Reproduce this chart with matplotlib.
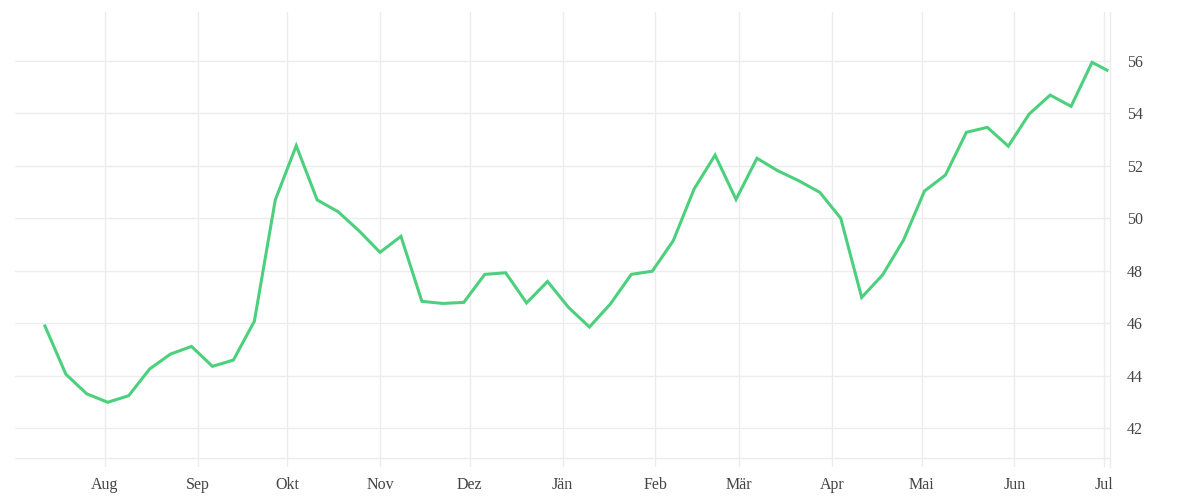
import matplotlib
matplotlib.use("Agg")
import matplotlib.pyplot as plt
import pandas as pd

# weekly values, Jul 2022 - Jul 2023 (last point is a partial week)
values = [45.89, 44.05, 43.30, 42.98, 43.23, 44.25, 44.82, 45.11, 44.35, 44.59,
          46.07, 50.70, 52.77, 50.70, 50.25, 49.52, 48.70, 49.31, 46.83, 46.75,
          46.79, 47.86, 47.92, 46.77, 47.59, 46.60, 45.85, 46.73, 47.86, 47.98,
          49.14, 51.12, 52.41, 50.72, 52.29, 51.81, 51.43, 50.99, 50.00, 46.98,
          47.84, 49.17, 51.04, 51.65, 53.28, 53.47, 52.75, 53.98, 54.70, 54.27,
          55.95, 55.65]
dates = list(pd.date_range("2022-07-12", periods=51, freq="7D")) + [pd.Timestamp("2023-07-02")]

month_ticks = pd.date_range("2022-08-01", "2023-07-01", freq="MS")
month_labels = ["Aug", "Sep", "Okt", "Nov", "Dez", "Jän", "Feb", "Mär", "Apr", "Mai", "Jun", "Jul"]
y_ticks = [42, 44, 46, 48, 50, 52, 54, 56]

grid_col = "#ececec"
text_col = "#444444"

plt.rcParams["font.family"] = ["Liberation Serif", "DejaVu Serif"]

fig = plt.figure(figsize=(12, 5), dpi=100)
ax = fig.add_axes([15 / 1200, 1 - 467 / 500, 1095 / 1200, 455 / 500])

ax.plot(dates, values, color="#4cd07d", linewidth=2.2, solid_joinstyle="miter")

ax.set_xlim(pd.Timestamp("2022-07-02"), pd.Timestamp("2023-07-03"))
ax.set_ylim(40.51, 57.87)

ax.set_xticks(month_ticks)
ax.set_xticklabels(month_labels)
ax.set_yticks(y_ticks)
ax.yaxis.tick_right()

ax.grid(True, color=grid_col, linewidth=1)
ax.set_axisbelow(True)
ax.axhline(40.85, color=grid_col, linewidth=1, zorder=0)

for side in ["top", "left", "bottom"]:
    ax.spines[side].set_visible(False)
ax.spines["right"].set_color(grid_col)
ax.spines["right"].set_linewidth(1)

ax.tick_params(axis="both", length=0, labelsize=11.5, colors=text_col)
ax.tick_params(axis="x", pad=7)
ax.tick_params(axis="y", pad=12)

fig.savefig("out.png", dpi=100)
